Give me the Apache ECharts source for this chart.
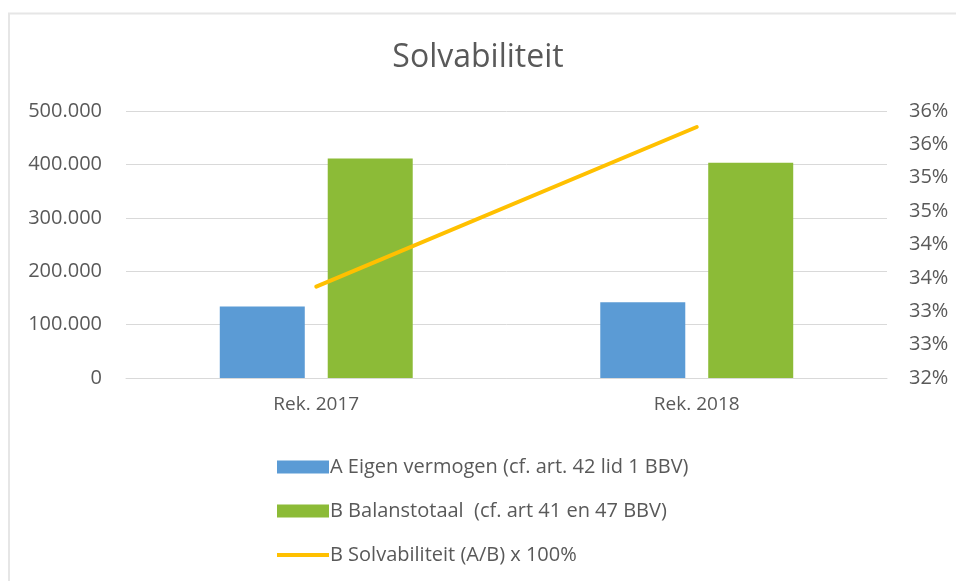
<!DOCTYPE html>
<html>
<head>
<meta charset="utf-8">
<script src="https://cdn.jsdelivr.net/npm/echarts@6/dist/echarts.min.js"></script>
<style>
  html, body { margin: 0; padding: 0; background: #fff; }
  #chart { width: 956px; height: 581px; }
</style>
</head>
<body>
<div id="chart"></div>
<script>
// Categories and series values
var categories = ['Rek. 2017', 'Rek. 2018'];
var eigenVermogen = [134000, 142000];      // A Eigen vermogen
var balansTotaal = [411000, 403000];       // B Balanstotaal
var solvabiliteit = [33.37, 35.76];        // (A/B) x 100%, in percent

var seriesNames = [
  'A Eigen vermogen (cf. art. 42 lid 1 BBV)',
  'B Balanstotaal  (cf. art 41 en 47 BBV)',
  'B Solvabiliteit (A/B) x 100%'
];

var textColor = '#595959';
var fontFamily = '"Open Sans", Lato, sans-serif';

var chart = echarts.init(document.getElementById('chart'));

function thousands(v) {
  return String(v).replace(/\B(?=(\d{3})+(?!\d))/g, '.');
}

chart.setOption({
  animation: false,
  backgroundColor: '#fff',
  textStyle: { fontFamily: fontFamily, color: textColor },
  graphic: [{
    type: 'polyline',
    shape: { points: [[9, 600], [9, 13.5], [970, 13.5]] },
    style: { stroke: '#e6e6e6', lineWidth: 2, fill: null },
    silent: true
  }],
  title: {
    text: 'Solvabiliteit',
    left: 'center',
    top: 37,
    textStyle: { fontFamily: fontFamily, fontSize: 32, fontWeight: 'normal', color: textColor }
  },
  grid: { left: 126, right: 69, top: 111, bottom: 203 },
  legend: {
    orient: 'vertical',
    left: 272,
    top: 452,
    itemWidth: 52,
    itemHeight: 13,
    itemGap: 24,
    textStyle: { fontSize: 20, color: textColor, fontFamily: fontFamily, padding: [0, 0, 0, -4] },
    data: [
      { name: seriesNames[0], icon: 'rect' },
      { name: seriesNames[1], icon: 'rect' },
      { name: seriesNames[2], icon: 'path://M0,0 H52 V4 H0 Z' }
    ]
  },
  xAxis: {
    type: 'category',
    data: categories,
    axisTick: { show: false },
    axisLine: { lineStyle: { color: '#d9d9d9', width: 1 } },
    axisLabel: { fontSize: 19, color: textColor, margin: 17 }
  },
  yAxis: [{
    type: 'value',
    min: 0,
    max: 500000,
    interval: 100000,
    axisLine: { show: false },
    axisTick: { show: false },
    splitLine: { lineStyle: { color: '#d9d9d9', width: 1 } },
    axisLabel: { fontSize: 20, color: textColor, margin: 24, formatter: thousands }
  }, {
    type: 'value',
    min: 32,
    max: 36,
    interval: 0.5,
    axisLine: { show: false },
    axisTick: { show: false },
    splitLine: { show: false },
    axisLabel: {
      fontSize: 20, color: textColor, margin: 22,
      formatter: function (v) { return Math.round(v) + '%'; }
    }
  }],
  series: [{
    name: seriesNames[0],
    type: 'bar',
    data: eigenVermogen,
    barWidth: 85,
    barGap: '27%',
    itemStyle: { color: '#5b9bd5' }
  }, {
    name: seriesNames[1],
    type: 'bar',
    data: balansTotaal,
    barWidth: 85,
    itemStyle: { color: '#8cbb37' }
  }, {
    name: seriesNames[2],
    type: 'line',
    yAxisIndex: 1,
    data: solvabiliteit,
    symbol: 'none',
    itemStyle: { color: '#ffc000' },
    lineStyle: { color: '#ffc000', width: 4, cap: 'round' }
  }]
});
</script>
</body>
</html>
